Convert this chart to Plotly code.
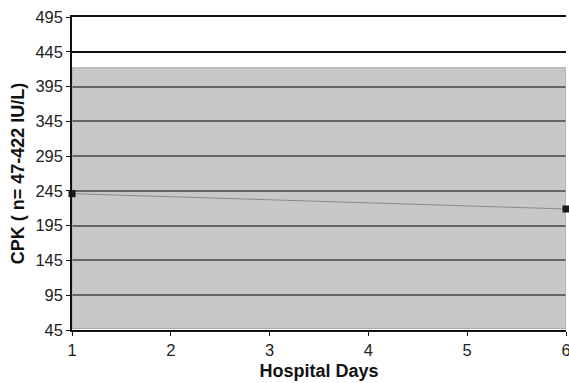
import plotly.graph_objects as go

days = [1, 6]
cpk = [241, 219]
normal_low, normal_high = 47, 422
y_ticks = [45, 95, 145, 195, 245, 295, 345, 395, 445, 495]
x_ticks = [1, 2, 3, 4, 5, 6]

fig = go.Figure()
fig.add_trace(go.Scatter(
    x=days, y=cpk, mode="lines+markers",
    line=dict(color="#8a8a8a", width=1),
    marker=dict(symbol="square", size=7, color="#1a1a1a"),
    cliponaxis=False, showlegend=False, hoverinfo="skip",
))

fig.add_shape(type="rect", xref="x", yref="y", x0=days[0], x1=days[-1],
              y0=normal_low, y1=normal_high, layer="between",
              fillcolor="rgba(162,162,162,0.59)",
              line=dict(color="#a8a8a8", width=1))

font = "Liberation Sans, Arial, sans-serif"
fig.update_layout(
    width=569, height=383,
    margin=dict(l=72, r=3, t=17, b=53),
    paper_bgcolor="white", plot_bgcolor="white",
    font=dict(family=font, size=16.5, color="#222"),
    xaxis=dict(range=[1, 6], tickvals=x_ticks, showgrid=False,
               showline=True, linecolor="#111", linewidth=1.5, mirror=True,
               ticks="outside", ticklen=4, tickcolor="#111",
               automargin=False, ticklabeloverflow="allow",
               title=dict(text="<b>Hospital Days</b>", font=dict(size=18, color="#111"), standoff=7),
               zeroline=False),
    yaxis=dict(range=[45, 495], tickvals=y_ticks, showgrid=True,
               gridcolor="#111", gridwidth=1.6,
               showline=True, linecolor="#111", linewidth=1.5,
               ticks="outside", ticklen=4, tickcolor="#111",
               automargin=False, ticklabeloverflow="allow",
               title=dict(text="<b>CPK ( n= 47-422 IU/L)</b>", font=dict(size=18, color="#111"), standoff=6),
               zeroline=False),
)
fig.write_html(
    "out.html",
    config={"displayModeBar": False},
    post_script="document.body.style.margin='0';document.body.style.overflow='hidden';",
)
